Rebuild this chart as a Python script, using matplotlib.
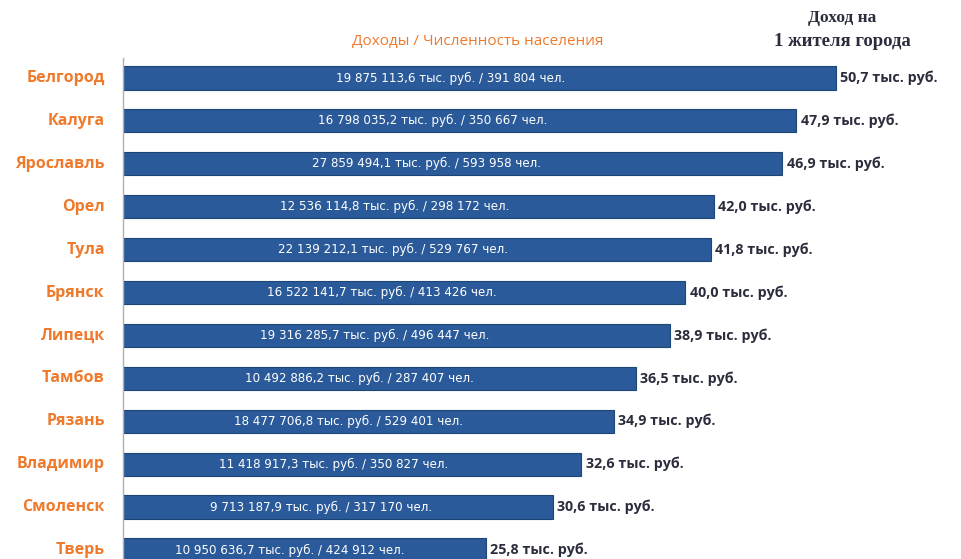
import matplotlib

matplotlib.use("Agg")
import matplotlib.pyplot as plt

cities = ["Белгород", "Калуга", "Ярославль", "Орел", "Тула", "Брянск",
          "Липецк", "Тамбов", "Рязань", "Владимир", "Смоленск", "Тверь"]
per_capita = [50.7, 47.9, 46.9, 42.0, 41.8, 40.0, 38.9, 36.5, 34.9, 32.6, 30.6, 25.8]
incomes = ["19 875 113,6", "16 798 035,2", "27 859 494,1", "12 536 114,8",
           "22 139 212,1", "16 522 141,7", "19 316 285,7", "10 492 886,2",
           "18 477 706,8", "11 418 917,3", "9 713 187,9", "10 950 636,7"]
population = ["391 804", "350 667", "593 958", "298 172", "529 767", "413 426",
              "496 447", "287 407", "529 401", "350 827", "317 170", "424 912"]

ORANGE = "#ef7a2c"
BLUE = "#2a5a99"
DARK = "#2b2d3c"

fig = plt.figure(figsize=(9.62, 5.59), dpi=100)
W, H = 962, 559
ax = fig.add_axes([123 / W, 0, 1 - 123 / W, 1 - 58 / H])

ypos = list(range(len(cities)))
ax.barh(ypos, per_capita, height=0.54, color=BLUE, edgecolor="#1d4576", linewidth=0.8)

for y, v, inc, pop in zip(ypos, per_capita, incomes, population):
    # label inside the bar
    ax.text(v * 0.46, y, f"{inc} тыс. руб. / {pop} чел.", color="white",
            fontsize=8.6, ha="center", va="center", family="DejaVu Sans")
    ax.text(v + 0.3, y, f"{v:.1f}".replace(".", ",") + " тыс. руб.", color=DARK,
            fontsize=10.3, fontweight="bold", ha="left", va="center", family="Open Sans")
    ax.text(-1.3, y, cities[y], color=ORANGE, fontsize=11.5, fontweight="bold",
            ha="right", va="center", family="Open Sans")

ax.set_xlim(0, (W - 123) / 14.06)
ax.set_ylim(11.21, -0.466)
for s in ["top", "right", "bottom"]:
    ax.spines[s].set_visible(False)
ax.spines["left"].set_color("#b0b0b0")
ax.spines["left"].set_linewidth(1.0)
ax.set_xticks([])
ax.set_yticks([])

fig.text(478 / W, 1 - 42 / H, "Доходы / Численность населения", color=ORANGE,
         fontsize=11, ha="center", va="center", family="Open Sans")
fig.text(842 / W, 1 - 18 / H, "Доход на", color=DARK,
         fontsize=12.5, fontweight="bold", ha="center", va="center",
         family="Liberation Serif")
fig.text(842 / W, 1 - 41 / H, "1 жителя города", color=DARK,
         fontsize=13.5, fontweight="bold", ha="center", va="center",
         family="Liberation Serif")

fig.savefig("out.png", dpi=100)
